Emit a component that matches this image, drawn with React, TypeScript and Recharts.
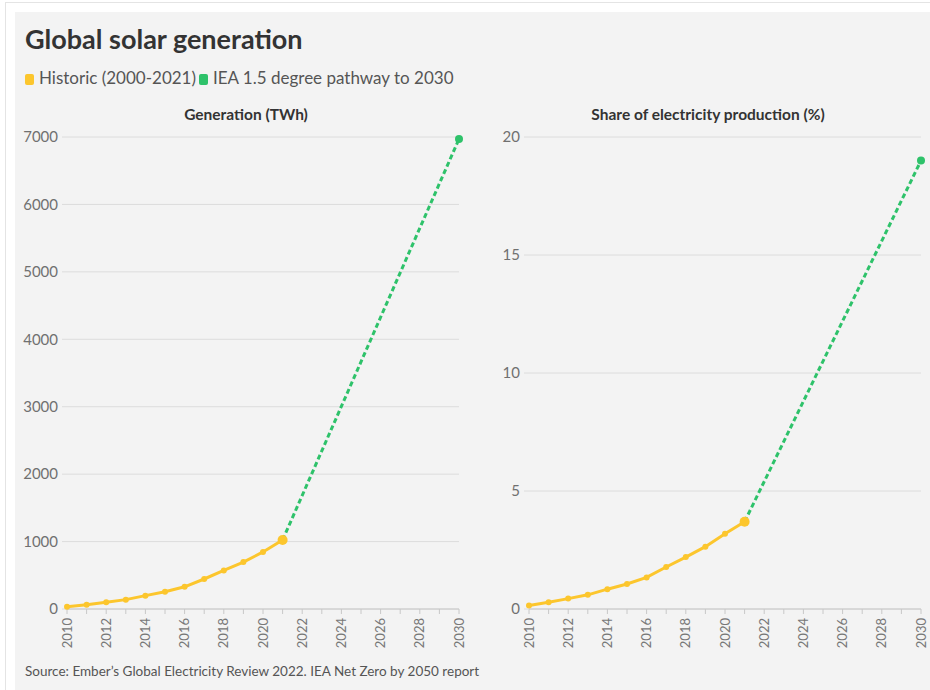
import React from 'react';
import { CartesianGrid, Line, LineChart, XAxis, YAxis } from 'recharts';

const historicYears = [2010, 2011, 2012, 2013, 2014, 2015, 2016, 2017, 2018, 2019, 2020, 2021];
const historicGeneration = [32, 64, 99, 139, 198, 256, 329, 445, 571, 696, 846, 1023];
const historicShare = [0.15, 0.29, 0.44, 0.6, 0.84, 1.06, 1.34, 1.78, 2.2, 2.64, 3.19, 3.7];

const pathwayYears = [2021, 2030];
const pathwayGeneration = [1023, 6970];
const pathwayShare = [3.7, 19.0];

const yearTicks = [
    2010, 2011, 2012, 2013, 2014, 2015, 2016, 2017, 2018, 2019, 2020,
    2021, 2022, 2023, 2024, 2025, 2026, 2027, 2028, 2029, 2030,
];
const generationTicks = [0, 1000, 2000, 3000, 4000, 5000, 6000, 7000];
const shareTicks = [0, 5, 10, 15, 20];

const YELLOW = '#fcc62d';
const GREEN = '#2ec26a';
const FONT = 'Lato, "Noto Sans", sans-serif';

const YearTick = (props: any) => {
    const { x, y, payload } = props;
    if (payload.value % 2 !== 0) return <g />;
    return (
        <g transform={`translate(${x},${y})`}>
            <text transform="rotate(-90)" x={-2} dy={4.5} textAnchor="end" fill="#777" fontSize={13} fontFamily={FONT}>
                {payload.value}
            </text>
        </g>
    );
};

const historicDot = (props: any) => {
    const { cx, cy, payload, index } = props;
    const r = payload.year === 2021 ? 5 : 3;
    return <circle key={`h-${index}`} cx={cx} cy={cy} r={r} fill={YELLOW} stroke="none" />;
};

const pathwayDot = (props: any) => {
    const { cx, cy, payload, index } = props;
    if (payload.year !== 2030) return <g key={`p-${index}`} />;
    return <circle key={`p-${index}`} cx={cx} cy={cy} r={4} fill={GREEN} stroke="none" />;
};

type PanelProps = {
    left: number;
    width: number;
    historic: { year: number; value: number }[];
    pathway: { year: number; value: number }[];
    ticks: number[];
    max: number;
};

// each panel: plot area 67..(width-11) horizontally, y 137..609 on the page
const Panel = ({ left, width, historic, pathway, ticks, max }: PanelProps) => (
    <div style={{ position: 'absolute', left, top: 100 }}>
        <LineChart width={width} height={570} margin={{ top: 37, right: 11, left: 0, bottom: 11 }}>
            <CartesianGrid vertical={false} stroke="#dcdcdc" />
            <XAxis
                dataKey="year"
                type="number"
                domain={[2010, 2030]}
                ticks={yearTicks}
                interval={0}
                height={50}
                tick={<YearTick />}
                tickSize={5}
                axisLine={{ stroke: '#c8c8c8' }}
                tickLine={{ stroke: '#c8c8c8' }}
                allowDuplicatedCategory={false}
            />
            <YAxis
                type="number"
                domain={[0, max]}
                ticks={ticks}
                width={67}
                axisLine={false}
                tickSize={5}
                tickMargin={4}
                tickLine={{ stroke: '#dcdcdc' }}
                tick={{ fill: '#707070', fontSize: 15, fontFamily: FONT }}
            />
            <Line
                data={pathway}
                dataKey="value"
                stroke={GREEN}
                strokeWidth={3}
                strokeDasharray="5 3"
                dot={pathwayDot}
                activeDot={false}
                isAnimationActive={false}
            />
            <Line
                data={historic}
                dataKey="value"
                stroke={YELLOW}
                strokeWidth={3}
                dot={historicDot}
                activeDot={false}
                isAnimationActive={false}
            />
        </LineChart>
    </div>
);

const zip = (years: number[], values: number[]) => years.map((year, i) => ({ year, value: values[i] }));

const legendSquare = (color: string) => (
    <span style={{ display: 'inline-block', width: 9, height: 11, borderRadius: 2, background: color, marginRight: 5, verticalAlign: '-1px' }} />
);

export default function App() {
    return (
        <div style={{ position: 'absolute', left: 0, top: 0, width: 930, height: 690, background: '#fff', overflow: 'hidden', fontFamily: FONT }}>
            <div style={{ position: 'absolute', left: 5, top: 2, width: 940, height: 700, borderTop: '1px solid #e4e4e4', borderLeft: '1px solid #e4e4e4' }} />
            <div style={{ position: 'absolute', left: 15, top: 12, width: 930, height: 690, background: '#f3f3f3' }} />
            <div style={{ position: 'absolute', left: 25, top: 22, fontSize: 27, fontWeight: 700, color: '#333' }}>
                Global solar generation
            </div>
            <div style={{ position: 'absolute', left: 25, top: 67, fontSize: 17, color: '#555', whiteSpace: 'nowrap' }}>
                {legendSquare(YELLOW)}Historic (2000-2021)
                <span style={{ marginLeft: 3 }} />
                {legendSquare(GREEN)}IEA 1.5 degree pathway to 2030
            </div>
            <div style={{ position: 'absolute', left: 146, width: 200, top: 105, textAlign: 'center', fontSize: 15.5, fontWeight: 700, color: '#333' }}>
                Generation (TWh)
            </div>
            <div style={{ position: 'absolute', left: 558, width: 300, top: 105, textAlign: 'center', fontSize: 15.5, fontWeight: 700, color: '#333' }}>
                Share of electricity production (%)
            </div>
            <Panel
                left={0}
                width={470}
                historic={zip(historicYears, historicGeneration)}
                pathway={zip(pathwayYears, pathwayGeneration)}
                ticks={generationTicks}
                max={7000}
            />
            <Panel
                left={462}
                width={470}
                historic={zip(historicYears, historicShare)}
                pathway={zip(pathwayYears, pathwayShare)}
                ticks={shareTicks}
                max={20}
            />
            <div style={{ position: 'absolute', left: 25, top: 663, fontSize: 13.5, color: '#555' }}>
                Source: Ember’s Global Electricity Review 2022. IEA Net Zero by 2050 report
            </div>
        </div>
    );
}
